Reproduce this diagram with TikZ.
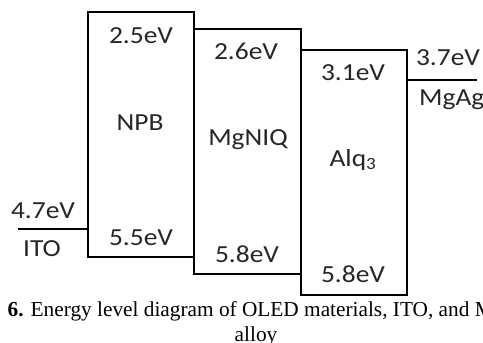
\documentclass[tikz,border=0pt]{standalone}
\usepackage{fontspec}
\setmainfont{Liberation Serif}
\newfontfamily\lblfont{Carlito}[FakeStretch=1.12]

\begin{document}
\begin{tikzpicture}[x=1pt,y=-1pt,
  layer/.style={draw,line width=2.6pt,minimum width=106pt,minimum height=245pt,inner sep=0pt},
  lvl/.style={font=\lblfont\fontsize{24.5}{26}\selectfont,inner sep=0pt,anchor=base,text=black!85},
  electrode/.style={line width=2.6pt},
  capt/.style={font=\fontsize{21.3}{24}\selectfont,inner sep=0pt,anchor=base}]

\useasboundingbox (0,0) rectangle (483,343);
\clip (0,0) rectangle (483,343);

% layers
\node[layer] (npb) at (141,134.5) {};
\node[layer,minimum width=107pt] (mgniq) at (247.5,151.5) {};
\node[layer] (alq) at (354,172.5) {};

% NPB
\node[lvl] (npbL) at (141,43) {2.5eV};
\node[lvl] (npbN) at (140,130) {NPB};
\node[lvl] (npbH) at (141,245) {5.5eV};

% MgNIQ
\node[lvl] (mgniqL) at (246,59) {2.6eV};
\node[lvl] (mgniqN) at (248,145) {MgNIQ};
\node[lvl] (mgniqH) at (247,262) {5.8eV};

% Alq3
\node[lvl] (alqL) at (353,80) {3.1eV};
\node[lvl] (alqN) at (353,166) {Alq\textsubscript{3}};
\node[lvl] (alqH) at (353,282) {5.8eV};

% electrodes
\coordinate (ito) at (18,229);
\draw[electrode] (ito) -- (ito -| npb.west);
\node[lvl] (itoL) at (43,218) {4.7eV};
\node[lvl] (itoN) at (42,256) {ITO};

\coordinate (mgag) at (477,80);
\draw[electrode] (alq.east |- mgag) -- (mgag);
\node[lvl] (mgagL) at (448,65) {3.7eV};
\node[lvl,anchor=base west] (mgagN) at (419,105) {MgAg};

% caption
\node[capt] (cap1) at (248,316) {\textbf{Fig. 6.} Energy level diagram of OLED materials, ITO, and MgAg};
\node[capt] (cap2) at (256,341) {alloy};
\end{tikzpicture}
\end{document}
